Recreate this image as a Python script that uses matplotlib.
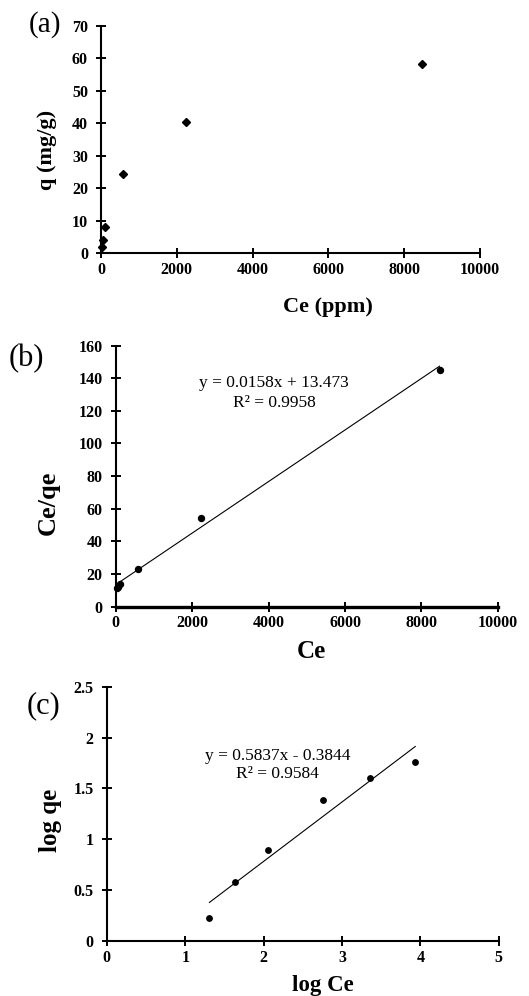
import matplotlib
matplotlib.use('Agg')
import matplotlib.pyplot as plt
from matplotlib.ticker import MultipleLocator, FuncFormatter
import numpy as np

plt.rcParams['font.family'] = ['Liberation Serif', 'DejaVu Serif']

# (a) isoterma: q frente a Ce
ce_a = [20, 45, 112, 590, 2240, 8480]
q_a = [1.8, 3.9, 8.0, 24.3, 40.4, 58.3]

# (b) Langmuir lineal: Ce/qe frente a Ce
ce_b = [20, 45, 112, 590, 2235, 8475]
ceq_b = [11.2, 12.3, 13.9, 23.2, 54.6, 145.1]
slope_b, icpt_b = 0.0158, 13.473
eq_b = 'y = 0.0158x + 13.473\nR² = 0.9958'

# (c) Freundlich: log qe frente a log Ce
logce_c = [1.308, 1.640, 2.052, 2.761, 3.356, 3.934]
logq_c = [0.223, 0.577, 0.894, 1.383, 1.606, 1.763]
slope_c, icpt_c = 0.5837, -0.3844
eq_c = 'y = 0.5837x - 0.3844\nR² = 0.9584'

fig = plt.figure(figsize=(5.29, 9.96), dpi=100)
ax_a = fig.add_axes([0.191, 0.746, 0.716, 0.228])
ax_b = fig.add_axes([0.219, 0.391, 0.722, 0.262])
ax_c = fig.add_axes([0.202, 0.0552, 0.741, 0.2554])

fmt = FuncFormatter(lambda v, p: '{:g}'.format(round(v, 6)))


def style(ax, xmax, xstep, ymax, ystep, bottom_lw=1.5):
    ax.set_xlim(0, xmax)
    ax.set_ylim(0, ymax)
    ax.xaxis.set_major_locator(MultipleLocator(xstep))
    ax.yaxis.set_major_locator(MultipleLocator(ystep))
    ax.xaxis.set_major_formatter(fmt)
    ax.yaxis.set_major_formatter(fmt)
    for s in ['top', 'right']:
        ax.spines[s].set_visible(False)
    ax.spines['left'].set_linewidth(1.5)
    ax.spines['bottom'].set_linewidth(bottom_lw)
    ax.tick_params(direction='inout', length=6.8, width=1.4, labelsize=11.5)
    ax.tick_params(axis='x', pad=3)
    ax.tick_params(axis='y', pad=6)
    for lab in ax.get_xticklabels() + ax.get_yticklabels():
        lab.set_fontweight('bold')


# Gráfica (a)
ax_a.plot(ce_a, q_a, 'D', color='black', ms=4.3, clip_on=False)
style(ax_a, 10000, 2000, 70, 10)
ax_a.set_xlabel('Ce (ppm)', fontsize=16, fontweight='bold', va='center')
ax_a.xaxis.set_label_coords(0.60, -0.238)
ax_a.set_ylabel('q (mg/g)', fontsize=16, fontweight='bold', va='center')
ax_a.yaxis.set_label_coords(-0.142, 0.454)

# Gráfica (b)
xl_b = np.array([min(ce_b), max(ce_b)])
ax_b.plot(ce_b, ceq_b, 'o', color='black', ms=4.3, clip_on=False)
ax_b.plot(xl_b, slope_b * xl_b + icpt_b, color='black', lw=0.8)
style(ax_b, 10000, 2000, 160, 20, bottom_lw=2.4)
ax_b.set_xlabel('Ce', fontsize=18, fontweight='bold', va='center')
ax_b.xaxis.set_label_coords(0.511, -0.172)
ax_b.set_ylabel('Ce/qe', fontsize=19, fontweight='bold', va='center')
ax_b.yaxis.set_label_coords(-0.177, 0.399)
ax_b.text(0.414, 0.819, eq_b, transform=ax_b.transAxes, ha='center',
          va='center', fontsize=12.5, linespacing=1.3)

# Gráfica (c)
xl_c = np.array([min(logce_c), max(logce_c)])
ax_c.plot(logce_c, logq_c, 'o', color='black', ms=3.9, clip_on=False)
ax_c.plot(xl_c, slope_c * xl_c + icpt_c, color='black', lw=0.8)
style(ax_c, 5, 1, 2.5, 0.5)
ax_c.set_xlabel('log Ce', fontsize=16.5, fontweight='bold', va='center')
ax_c.xaxis.set_label_coords(0.55, -0.176)
ax_c.set_ylabel('log qe', fontsize=18, fontweight='bold', va='center')
ax_c.yaxis.set_label_coords(-0.145, 0.476)
ax_c.text(0.436, 0.692, eq_c, transform=ax_c.transAxes, ha='center',
          va='center', fontsize=12.5, linespacing=1.22)

# Etiquetas de los paneles
fig.text(0.085, 0.975, '(a)', fontsize=21, ha='center', va='center')
fig.text(0.050, 0.640, '(b)', fontsize=22, ha='center', va='center')
fig.text(0.083, 0.291, '(c)', fontsize=22, ha='center', va='center')

fig.savefig('out.png', dpi=100)
